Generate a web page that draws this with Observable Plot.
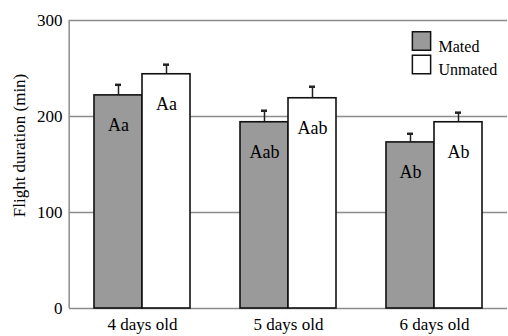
<!DOCTYPE html>
<html><head><meta charset="utf-8">
<script src="https://cdn.jsdelivr.net/npm/d3@7"></script>
<script src="https://cdn.jsdelivr.net/npm/@observablehq/plot@0.6"></script>
<style>body{margin:0;background:#fff} #chart{width:508px;height:336px}</style>
</head><body><div id="chart"></div>
<script>
const ages = ["4 days old", "5 days old", "6 days old"];
const groups = ["Mated", "Unmated"];
const mated = [222, 194, 173];
const matedErr = [11, 12, 9];
const unmated = [244, 219, 194];
const unmatedErr = [10, 12, 10];
const matedLetters = ["Aa", "Aab", "Ab"];
const unmatedLetters = ["Aa", "Aab", "Ab"];
const yTicks = [0, 100, 200, 300];
const yTitle = "Flight duration (min)";

const data = [];
ages.forEach((a, i) => {
  data.push({age: a, group: "Mated", value: mated[i], err: matedErr[i], label: matedLetters[i]});
  data.push({age: a, group: "Unmated", value: unmated[i], err: unmatedErr[i], label: unmatedLetters[i]});
});

const legendMarks = groups.flatMap((g, i) => [
  Plot.dot([{age: ages[2], group: g}], {fx: "age", frameAnchor: "top-right", symbol: "square", r: 10.3, dx: -86, dy: 20.5 + i * 23.5, fill: "group", stroke: "#111", strokeWidth: 1.5}),
  Plot.text([{age: ages[2], group: g}], {fx: "age", frameAnchor: "top-right", text: "group", textAnchor: "start", dx: -69, dy: 20 + i * 23.5, fontSize: 16})
]);

const chart = Plot.plot({
  width: 508, height: 336,
  marginLeft: 68, marginRight: 0, marginTop: 20, marginBottom: 28,
  style: {fontFamily: "'Liberation Serif', 'Times New Roman', serif", fontSize: "17px", background: "#fff", color: "#000"},
  fx: {domain: ages, padding: 0, label: null, tickSize: 0, tickPadding: 9, fontSize: 18},
  x: {domain: groups, axis: null, paddingInner: 0, paddingOuter: 0.5},
  y: {domain: [0, 300], ticks: yTicks, tickSize: 0, tickPadding: 7, label: null},
  color: {domain: groups, range: ["#9a9a9a", "#ffffff"]},
  marks: [
    Plot.ruleY(yTicks, {stroke: "#8c8c8c", strokeWidth: 1.5}),
    Plot.ruleX([{age: ages[0]}], {fx: "age", x: null, dx: -440 / 6, stroke: "#8c8c8c", strokeWidth: 1.5}),
    Plot.ruleX(data, {fx: "age", x: "group", y1: "value", y2: d => d.value + d.err, stroke: "#222", strokeWidth: 1.5}),
    Plot.tickY(data, {fx: "age", x: "group", y: d => d.value + d.err, stroke: "#222", strokeWidth: 2.5, insetLeft: 21, insetRight: 21}),
    Plot.barY(data, {fx: "age", x: "group", y: "value", fill: "group", stroke: "#111", strokeWidth: 1.6}),
    Plot.text(data, {fx: "age", x: "group", y: "value", text: "label", dy: 30, fontSize: 18}),
    Plot.text([{age: ages[0]}], {fx: "age", frameAnchor: "left", textAnchor: "middle", text: () => yTitle, rotate: -90, dx: -50, dy: -19, fontSize: 17}),
    ...legendMarks
  ]
});
document.getElementById("chart").appendChild(chart);
</script>
</body></html>
